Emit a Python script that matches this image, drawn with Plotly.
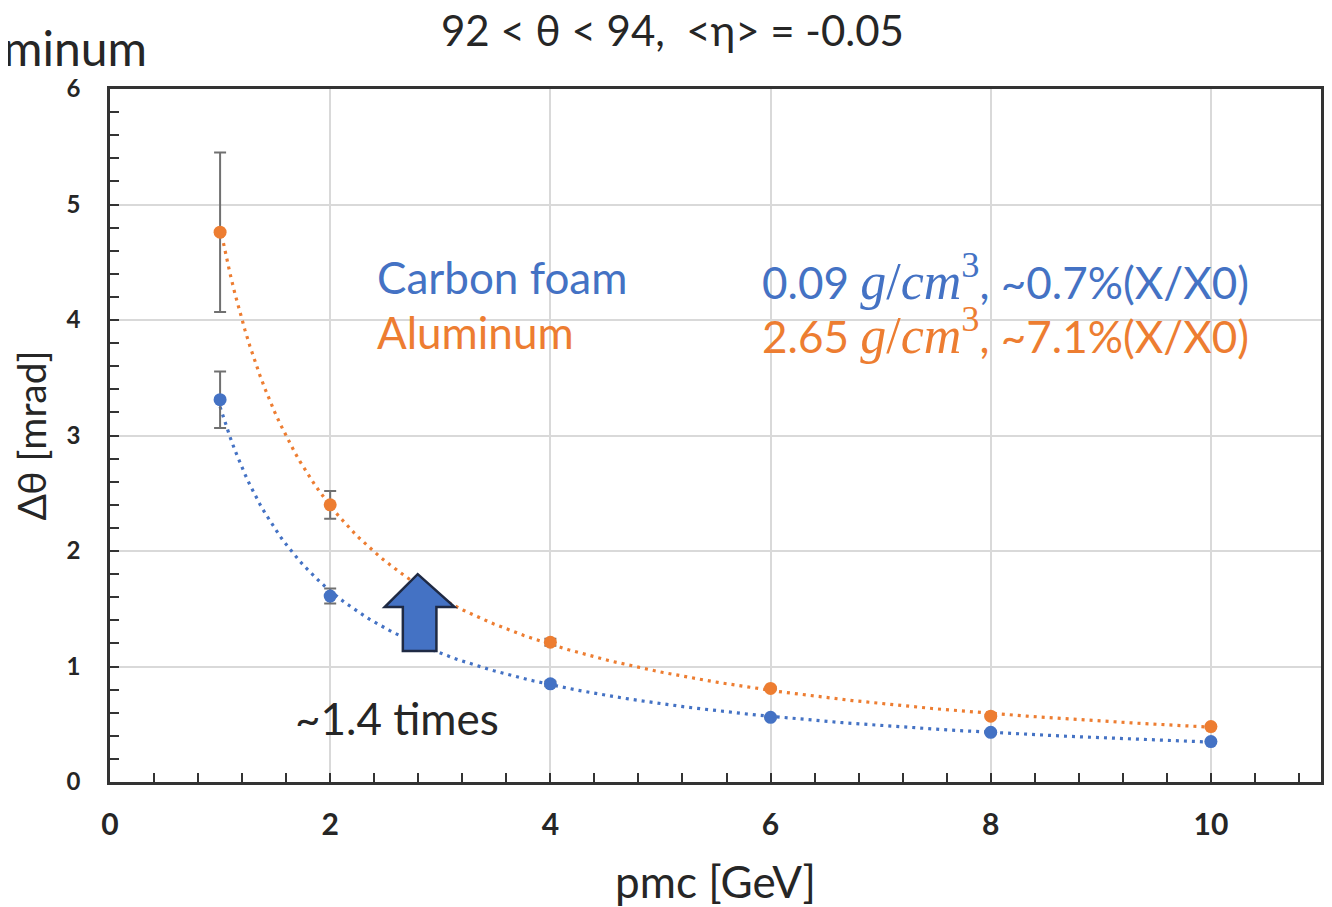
import numpy as np
import plotly.graph_objects as go

# momentum points [GeV]
pmc = [1, 2, 4, 6, 8, 10]

# delta theta [mrad] and errors
carbon_foam = [3.31, 1.61, 0.85, 0.56, 0.43, 0.35]
carbon_err = [0.245, 0.065, 0.02, 0.01, 0.01, 0.01]
aluminum = [4.76, 2.40, 1.21, 0.81, 0.57, 0.48]
aluminum_err = [0.69, 0.12, 0.03, 0.01, 0.01, 0.01]

BLUE = "#4472C4"
ORANGE = "#ED7D31"
TXT = "#262626"
FONT = "Lato"

# page body has an 8px margin, so the figure is a bit smaller than the window
W, H = 1324, 899
L, R, T, B = 102, 11, 81, 125


def power_fit(x, y):
    # same as an Excel power trendline: ln y = ln a + b ln x
    b, lna = np.polyfit(np.log(x), np.log(y), 1)
    xs = np.linspace(min(x), max(x), 200)
    return xs, np.exp(lna) * xs ** b


def paper(px, py):
    # screen pixel -> paper coords
    return ((px - 8 - L) / (W - L - R), (H - B - (py - 8)) / (H - T - B))


fig = go.Figure()

for ys, err, col in [(carbon_foam, carbon_err, BLUE), (aluminum, aluminum_err, ORANGE)]:
    fx, fy = power_fit(pmc, ys)
    fig.add_trace(go.Scatter(x=fx, y=fy, mode="lines",
                             line=dict(color=col, width=3.2, dash="3px,5px"),
                             hoverinfo="skip", showlegend=False))
    fig.add_trace(go.Scatter(x=pmc, y=ys, mode="markers",
                             marker=dict(color=col, size=13),
                             error_y=dict(type="data", array=err, color="#707070",
                                          thickness=2, width=6),
                             showlegend=False))

# block arrow
fig.add_shape(type="path",
              path="M 2.795 1.80 L 3.13 1.515 L 2.965 1.515 L 2.965 1.135 "
                   "L 2.66 1.135 L 2.66 1.515 L 2.495 1.515 Z",
              xref="x", yref="y", fillcolor=BLUE,
              line=dict(color="#1F2A44", width=2.5), layer="above")

italic = ("<span style='font-family:Liberation Serif;font-size:52px'>"
          "<i>g</i>/<i>cm</i><sup>3</sup></span>")
notes = [
    (2.41, 4.37, "Carbon foam", BLUE),
    (2.41, 3.90, "Aluminum", ORANGE),
    (5.9, 4.37, "0.09 " + italic + ", ~0.7%(X/X0)", BLUE),
    (5.9, 3.90, "2.65 " + italic + ", ~7.1%(X/X0)", ORANGE),
    (1.66, 0.55, "~1.4 times", TXT),
]
for x, y, t, c in notes:
    fig.add_annotation(x=x, y=y, xref="x", yref="y", text=t, showarrow=False,
                       xanchor="left", yanchor="middle",
                       font=dict(family=FONT, size=44, color=c))

tx, ty = paper(672, 30)
fig.add_annotation(x=tx, y=ty, xref="paper", yref="paper",
                   text="92 &lt; θ &lt; 94,  &lt;η&gt; = -0.05", showarrow=False,
                   xanchor="center", yanchor="middle",
                   font=dict(family=FONT, size=42, color=TXT))
mx, my = paper(1, 47)
fig.add_annotation(x=mx, y=my, xref="paper", yref="paper",
                   text="minum", showarrow=False, xanchor="left", yanchor="middle",
                   font=dict(family=FONT, size=48, color=TXT))

axis_common = dict(
    showline=True, mirror=True, linecolor="#333333", linewidth=2.5,
    showgrid=True, gridcolor="#D9D9D9", gridwidth=2, zeroline=False,
    ticks="inside", ticklen=9, tickwidth=2, tickcolor="#333333",
)
minor_common = dict(ticks="inside", ticklen=9, tickwidth=2, tickcolor="#333333",
                    showgrid=False)

fig.update_xaxes(range=[0, 11], tickvals=[0, 2, 4, 6, 8, 10], ticklabelstandoff=14,
                 tickfont=dict(family=FONT, size=30, color=TXT, weight="bold"),
                 minor=dict(dtick=0.4, tick0=0, **minor_common),
                 title=dict(text="pmc [GeV]", standoff=28,
                            font=dict(family=FONT, size=44, color=TXT)),
                 **axis_common)
fig.update_yaxes(range=[0, 6], dtick=1, ticklabelstandoff=22,
                 tickfont=dict(family=FONT, size=24, color=TXT, weight="bold"),
                 minor=dict(dtick=0.2, tick0=0, **minor_common),
                 title=dict(text="Δθ [mrad]", standoff=11,
                            font=dict(family=FONT, size=39, color=TXT)),
                 **axis_common)

fig.update_layout(width=W, height=H,
                  margin=dict(l=L, r=R, t=T, b=B, autoexpand=False),
                  plot_bgcolor="white", paper_bgcolor="white")

fig.write_html("out.html")
